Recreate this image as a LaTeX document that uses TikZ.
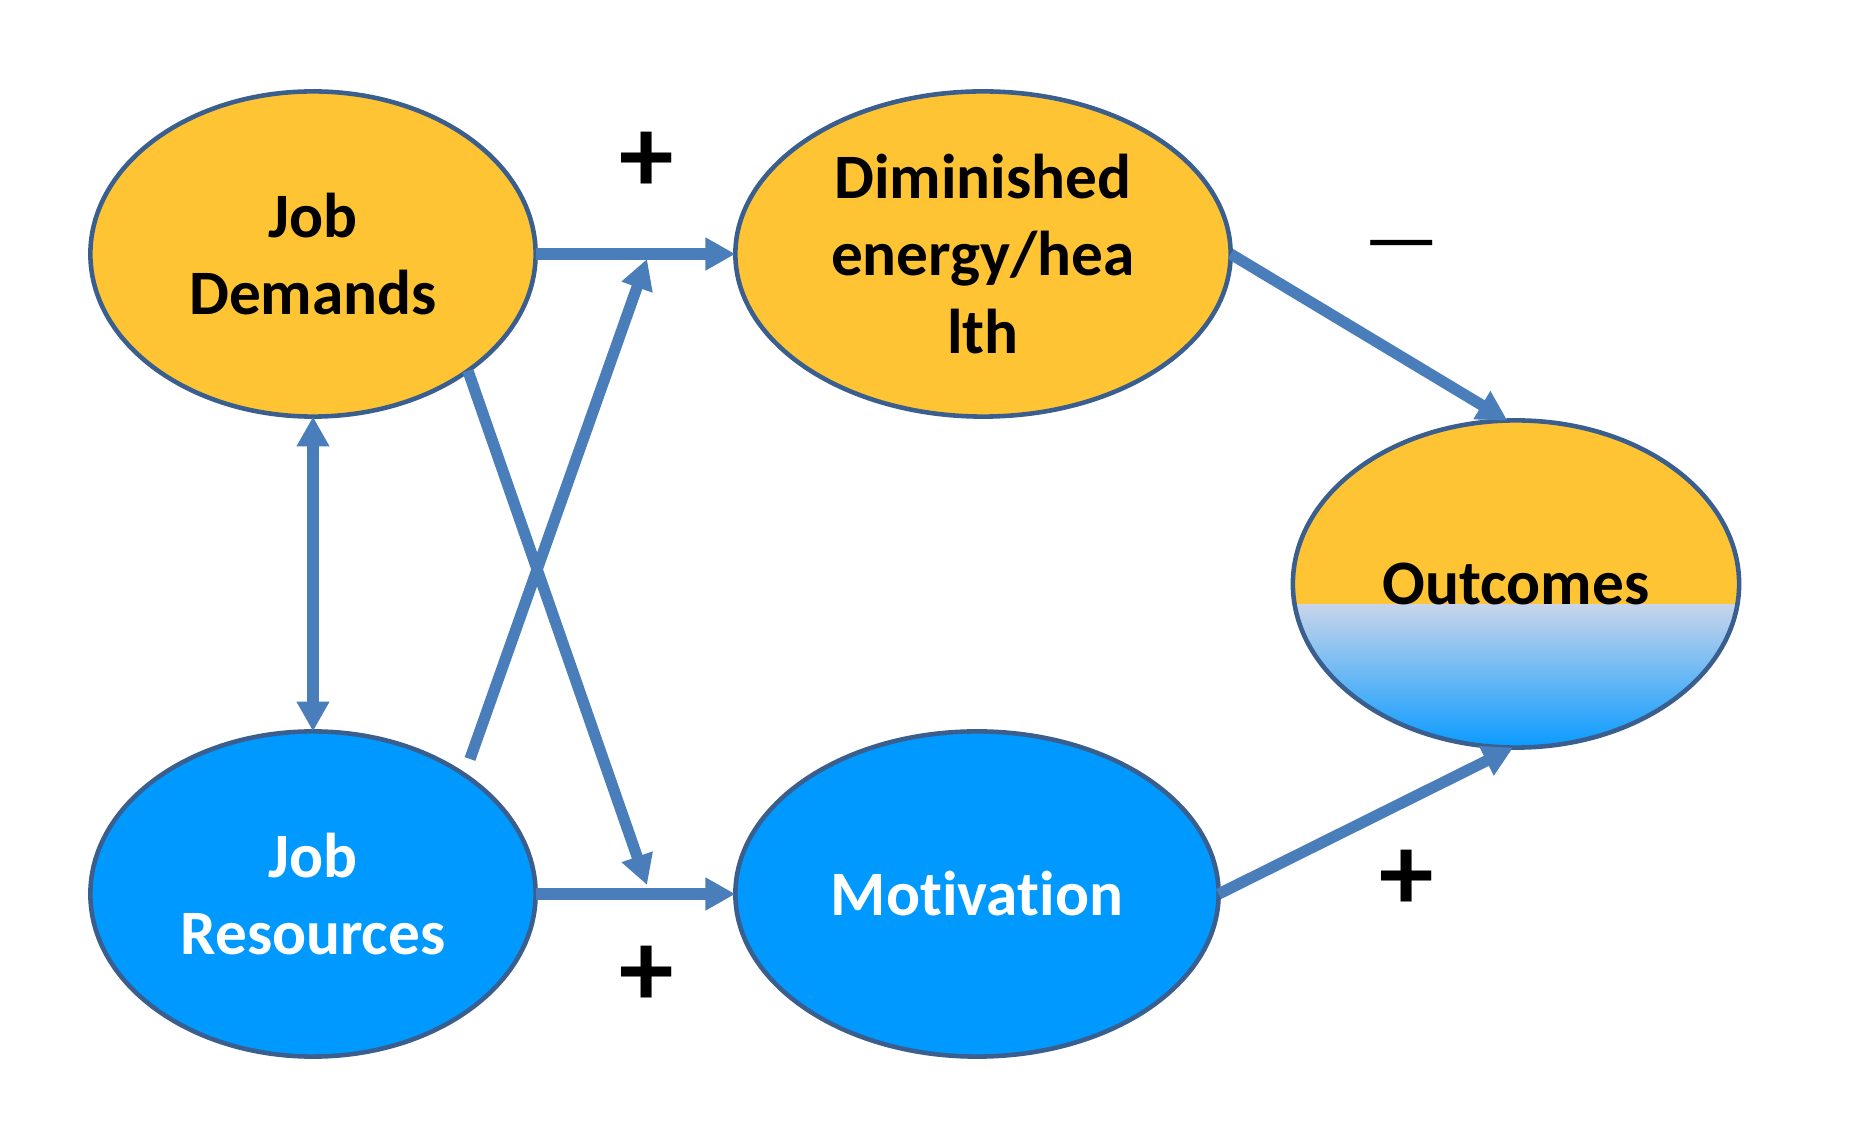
\documentclass[tikz,border=0pt]{standalone}
\usepackage{fontspec}
\setmainfont{Carlito}[Ligatures=NoCommon]
\usetikzlibrary{arrows.meta,shapes.geometric,calc}
\definecolor{ygold}{HTML}{FFC433}
\definecolor{bfill}{HTML}{0099FF}
\definecolor{bord}{HTML}{3A5F8E}
\definecolor{arr}{HTML}{4A7EBB}
\definecolor{gtop}{HTML}{C8D5EA}
\definecolor{gmid}{HTML}{80BAE8}
\definecolor{gbot}{HTML}{0A9BFF}
\begin{document}
\begin{tikzpicture}[x=0.01cm,y=-0.01cm,
  >={Triangle[length=8.5pt,width=8.8pt]},
  oval/.style={ellipse, draw=bord, line width=1.3pt, inner sep=0pt, outer sep=0pt,
    align=center, font=\bfseries\fontsize{18}{22}\selectfont},
  conn/.style={draw=arr, line width=3.2pt, ->},
  sign/.style={inner sep=0pt, font=\bfseries\fontsize{31}{31}\selectfont},
  signm/.style={inner sep=0pt, font=\fontsize{24}{24}\selectfont}]
\useasboundingbox (0,0) rectangle (1872,1125);
\node[oval, fill=ygold, minimum width=4.45cm, minimum height=3.25cm] (JD) at (313,254) {Job\\Demands};
\node[oval, fill=ygold, minimum width=4.95cm, minimum height=3.25cm] (Dim) at (983,254) {Diminished\\energy/hea\\lth};
\node[oval, fill=bfill, text=white, minimum width=4.45cm, minimum height=3.25cm] (JR) at (313,894) {Job\\Resources};
\node[oval, fill=bfill, text=white, minimum width=4.83cm, minimum height=3.25cm] (Mot) at (977,894) {Motivation};
\node[oval, minimum width=4.46cm, minimum height=3.27cm,
  path picture={
    \fill[ygold] (path picture bounding box.north west) rectangle (path picture bounding box.south east);
    \shade[top color=gtop, middle color=gmid, bottom color=gbot]
      ([yshift=-0.2cm]path picture bounding box.west) rectangle (path picture bounding box.south east);
  }] (Out) at (1516,584) {Outcomes};
\coordinate (a1) at (470,759);
\coordinate (t1) at (647,259);
\coordinate (t2) at (647,885);
\draw[conn] (JD.east) -- (Dim.west);
\draw[conn] (JR.east) -- (Mot.west);
\draw[conn,<->] (JD.south) -- (JR.north);
\draw[conn] (JD.-37) -- (t2);
\draw[conn] (a1) -- (t1);
\draw[conn] (Dim.east) -- (Out.93);
\draw[conn] (Mot.east) -- (Out.269);
\node[sign] (p1) at (647,162) {+};
\node[sign] (p2) at (647,976) {+};
\node[signm] (m1) at (1402,253) {—};
\node[sign] (p3) at (1407,880) {+};
\end{tikzpicture}
\end{document}
